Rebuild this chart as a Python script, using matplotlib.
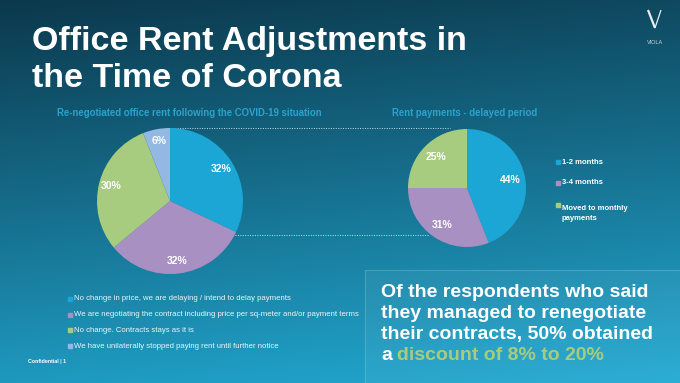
import numpy as np
import matplotlib.pyplot as plt
from matplotlib.patches import Rectangle
from matplotlib.colors import to_rgb

# data
title_lines = ['Office Rent Adjustments in', 'the Time of Corona']

reneg_title = 'Re-negotiated office rent following the COVID-19 situation'
reneg_labels = ['No change in price, we are delaying / intend to delay payments',
                'We are negotiating the contract including price per sq-meter and/or payment terms',
                'No change. Contracts stays as it is',
                'We have unilaterally stopped paying rent until further notice']
reneg_values = [32, 32, 30, 6]

delay_title = 'Rent payments - delayed period'
delay_labels = ['1-2 months', '3-4 months', 'Moved to monthly\npayments']
delay_values = [44, 31, 25]

note_lines = ['Of the respondents who said',
              'they managed to renegotiate',
              'their contracts, 50% obtained']
note_last_white = 'a'
note_last_green = 'discount of 8% to 20%'

blue = '#1ba6d6'
purple = '#a990c2'
green = '#a7cc80'
lightblue = '#94b8e4'
reneg_colors = [blue, purple, green, lightblue]
delay_colors = [blue, purple, green]
head_col = '#2aa3cf'

W, H = 680, 383
fig = plt.figure(figsize=(6.8, 3.83), dpi=100)
plt.rcParams['font.family'] = ['Liberation Sans', 'DejaVu Sans']

# background gradient, pixel coordinates
bg = fig.add_axes([0, 0, 1, 1])
bg.set_xlim(0, W)
bg.set_ylim(H, 0)
bg.axis('off')
yy, xx = np.mgrid[0:1:200j, 0:1:300j]
t = np.clip(0.85 * yy + 0.15 * xx, 0, 1)[..., None]
c0 = np.array(to_rgb('#0b384c'))
c1 = np.array(to_rgb('#22aad3'))
img = c0 * (1 - t) + c1 * t
bg.imshow(img, extent=[0, W, H, 0], aspect='auto', zorder=0)

# title
bg.text(32, 50, title_lines[0], color='white', fontsize=24.5, fontweight='bold', va='baseline')
bg.text(32, 87, title_lines[1], color='white', fontsize=24.5, fontweight='bold', va='baseline')

# logo
bg.plot([648, 655], [10, 28], color='#e8eef2', lw=1.6, solid_capstyle='butt')
bg.plot([655, 661], [28, 10], color='#e8eef2', lw=0.9, solid_capstyle='butt')
bg.text(655, 42, 'VIOLA', color='#c8d6de', fontsize=4, ha='center', va='center')

# pie headers
bg.text(189, 113, reneg_title, color=head_col, fontsize=6.9, fontweight='bold', ha='center', va='center')
bg.text(465, 113, delay_title, color=head_col, fontsize=6.9, fontweight='bold', ha='center', va='center')

# dotted connectors
bg.plot([170, 450], [128, 128], color='#c9dde6', lw=0.7, ls=(0, (1, 1.5)))
bg.plot([235, 428], [235, 235], color='#c9dde6', lw=0.7, ls=(0, (1, 1.5)))


def pie_axes(cx, cy, r):
    return fig.add_axes([(cx - r) / W, (H - cy - r) / H, 2 * r / W, 2 * r / H])


ax1 = pie_axes(170, 201, 73)
ax1.pie(reneg_values, colors=reneg_colors, startangle=90, counterclock=False,
        autopct=lambda p: f'{p:.0f}%', pctdistance=0.83,
        textprops=dict(color='white', fontsize=7.5, fontweight='bold'))
ax1.set_xlim(-1, 1)
ax1.set_ylim(-1, 1)

ax2 = pie_axes(467, 188, 59)
ax2.pie(delay_values, colors=delay_colors, startangle=90, counterclock=False,
        autopct=lambda p: f'{p:.0f}%', pctdistance=0.75,
        textprops=dict(color='white', fontsize=7.5, fontweight='bold'))
ax2.set_xlim(-1, 1)
ax2.set_ylim(-1, 1)

# legend for first pie
for i, (lab, col) in enumerate(zip(reneg_labels, reneg_colors)):
    y = 299 + i * 15.7
    bg.add_patch(Rectangle((67.5, y - 2), 4, 4, color=col))
    bg.text(74, y, lab, color='#eaf5f9', fontsize=5.55, va='center')

# legend for second pie
for y, lab, col in zip([162, 183, 205], delay_labels, delay_colors):
    bg.add_patch(Rectangle((556, y - 2), 4, 4, color=col))
    bg.text(562, y, lab, color='white', fontsize=5.5, fontweight='bold',
            va='top' if '\n' in lab else 'center', linespacing=1.5)

bg.text(28, 362, 'Confidential | 1', color='white', fontsize=3.8, fontweight='bold', va='center')

# highlight box
bg.add_patch(Rectangle((365, 270), 320, 120, facecolor=(1, 1, 1, 0.05),
                       edgecolor=(1, 1, 1, 0.18), lw=0.8))
for i, line in enumerate(note_lines):
    bg.text(381, 297 + i * 21, line, color='white', fontsize=14, fontweight='bold', va='baseline')
ta = bg.text(381, 360, note_last_white, color='white', fontsize=14, fontweight='bold', va='baseline')
bg.annotate(note_last_green, xy=(1, 0), xycoords=ta, xytext=(3.8, 0), textcoords='offset points',
            color=green, fontsize=14, fontweight='bold', va='bottom')

fig.savefig('out.png', dpi=100)
